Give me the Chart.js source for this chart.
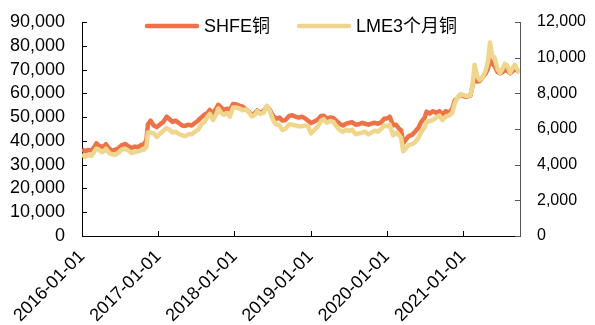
<!DOCTYPE html>
<html>
<head>
<meta charset="utf-8">
<script src="https://cdn.jsdelivr.net/npm/chart.js@4.4.1/dist/chart.umd.min.js"></script>
<style>
  html, body { margin: 0; padding: 0; background: #fff; }
</style>
</head>
<body>
<canvas id="chart" width="595" height="325"></canvas>
<script>
// dates of the sampled points (roughly twice a month)
const dates = [
  '2016-01-01','2016-01-15','2016-02-01','2016-02-15','2016-03-01','2016-03-10','2016-03-22','2016-04-05','2016-04-15','2016-04-25',
  '2016-05-10','2016-05-25','2016-06-10','2016-06-25','2016-07-10','2016-07-25','2016-08-10','2016-08-25','2016-09-10','2016-09-25',
  '2016-10-10','2016-10-25','2016-11-05','2016-11-12','2016-11-25','2016-12-10','2016-12-25',
  '2017-01-10','2017-01-25','2017-02-10','2017-02-25','2017-03-10','2017-03-25','2017-04-10','2017-04-25','2017-05-10','2017-05-25',
  '2017-06-10','2017-06-25','2017-07-10','2017-07-25','2017-08-10','2017-08-25','2017-09-05','2017-09-20','2017-10-05','2017-10-15',
  '2017-10-30','2017-11-10','2017-11-25','2017-12-10','2017-12-25',
  '2018-01-10','2018-01-25','2018-02-10','2018-02-25','2018-03-10','2018-03-25','2018-04-10','2018-04-20','2018-05-05','2018-05-20',
  '2018-06-05','2018-06-20','2018-07-05','2018-07-20','2018-08-05','2018-08-18','2018-09-01','2018-09-20','2018-10-05','2018-10-20',
  '2018-11-05','2018-11-20','2018-12-05','2018-12-20',
  '2019-01-03','2019-01-20','2019-02-05','2019-02-20','2019-03-05','2019-03-20','2019-04-05','2019-04-20','2019-05-05','2019-05-20',
  '2019-06-05','2019-06-20','2019-07-05','2019-07-20','2019-08-05','2019-08-20','2019-09-05','2019-09-20','2019-10-05','2019-10-20',
  '2019-11-05','2019-11-20','2019-12-05','2019-12-20',
  '2020-01-05','2020-01-15','2020-02-01','2020-02-15','2020-03-01','2020-03-10','2020-03-20','2020-04-01','2020-04-15','2020-05-01',
  '2020-05-15','2020-06-01','2020-06-15','2020-07-01','2020-07-10','2020-07-25','2020-08-10','2020-08-25','2020-09-10','2020-09-25',
  '2020-10-10','2020-10-25','2020-11-10','2020-11-22','2020-12-05','2020-12-20',
  '2021-01-05','2021-01-20','2021-02-05','2021-02-15','2021-02-25','2021-03-10','2021-03-22','2021-04-05','2021-04-20','2021-05-01',
  '2021-05-10','2021-05-20','2021-06-01','2021-06-15','2021-06-28','2021-07-10','2021-07-20','2021-08-01','2021-08-14','2021-08-25',
  '2021-09-06','2021-09-18','2021-09-28'
];

// SHFE copper, yuan/t (left axis)
const shfeCopper = [
  36500,35600,36200,36000,37500,39000,38000,37500,37800,38600,
  36800,35900,36300,37000,38200,38700,37800,37000,37600,37300,
  38200,38700,40500,47000,48500,46500,45800,
  47000,48000,50200,49000,48000,48500,47500,46500,46300,46800,
  46500,47500,48500,49800,51000,51800,53000,51500,53500,55200,
  54000,53000,53500,53200,55500,
  55300,54800,54400,53300,52300,51000,51800,52800,51800,52500,
  54400,53000,50500,49300,49800,48600,48700,50500,50800,50200,
  49800,50200,49500,48500,
  47500,48200,49000,50500,50600,49400,49800,49600,48400,47200,
  46500,47200,47600,47800,46800,47000,47600,47200,46800,47300,
  47600,47200,47800,49300,
  49500,50200,46500,46800,45000,44500,39000,40500,42000,42500,
  43800,45500,48000,49800,52300,51500,52500,51800,52500,51000,
  52500,51800,53500,57000,58000,59500,
  58800,58600,59000,63000,66500,65000,65200,66800,68400,70500,
  74000,72700,71500,69000,68400,69000,69800,69500,68400,69200,
  70200,69500,69200
];

// LME 3-month copper, USD/t (right axis)
const lmeCopper = [
  4600,4430,4550,4500,4750,4900,4850,4700,4750,4900,
  4650,4580,4550,4700,4850,4900,4800,4650,4700,4750,
  4800,4850,5000,5800,5800,5750,5550,
  5750,5900,6050,5950,5800,5850,5720,5650,5600,5700,
  5700,5850,5950,6250,6400,6700,6850,6500,6800,7150,
  6900,6800,6900,6700,7200,
  7200,7150,7050,7100,6950,6700,6800,7000,6850,6900,
  7300,7000,6500,6250,6200,5950,6000,6250,6250,6200,
  6150,6150,6200,6150,
  5750,5950,6150,6450,6550,6350,6450,6400,6150,5950,
  5850,5950,5900,5950,5700,5750,5800,5850,5700,5800,
  5900,5850,6000,6200,
  6150,6250,5650,5800,5650,5500,4750,4900,5100,5150,
  5250,5500,5850,6100,6400,6450,6500,6650,6750,6500,
  6700,6750,6900,7450,7750,7950,
  7900,7850,7900,8400,9600,8950,8750,8900,9300,9800,
  10850,10150,10000,9350,9150,9400,9650,9550,9150,9400,
  9600,9350,9150
];

const yearTicks = ['2016-01-01','2017-01-01','2018-01-01','2019-01-01','2020-01-01','2021-01-01'];
const xMin = '2016-01-01';
const xMax = '2021-10-01';

const FONT = "'Liberation Sans', Arial, 'Noto Sans CJK SC', sans-serif";
const ORANGE = 'rgb(238,114,71)';
const YELLOW = 'rgb(240,214,140)';

const toPoints = vals => dates.map((d, i) => ({ x: Date.parse(d), y: vals[i] }));

// ticks point into the plot in the original, so draw them ourselves
const inwardTicks = {
  id: 'inwardTicks',
  afterDraw(chart) {
    const { ctx, chartArea: a, scales } = chart;
    ctx.save();
    ctx.lineWidth = 1;
    ctx.strokeStyle = '#000';
    ctx.beginPath();
    scales.x.ticks.forEach((t, i) => {
      const px = Math.round(scales.x.getPixelForTick(i)) + 0.5;
      ctx.moveTo(px, a.bottom);
      ctx.lineTo(px, a.bottom - 5);
    });
    scales.y.ticks.forEach((t, i) => {
      const py = Math.round(scales.y.getPixelForTick(i)) + 0.5;
      ctx.moveTo(a.left, py);
      ctx.lineTo(a.left + 5, py);
    });
    ctx.stroke();
    ctx.strokeStyle = '#555';
    ctx.beginPath();
    scales.y2.ticks.forEach((t, i) => {
      const py = Math.round(scales.y2.getPixelForTick(i)) + 0.5;
      ctx.moveTo(a.right, py);
      ctx.lineTo(a.right - 5, py);
    });
    ctx.stroke();
    ctx.restore();
  }
};

// legend sits inside the plot, right at the top
const topLegend = {
  id: 'topLegend',
  afterDraw(chart) {
    const { ctx, chartArea: a } = chart;
    ctx.save();
    ctx.font = '18px ' + FONT;
    const boxW = 54, textGap = 5, itemGap = 27;
    const items = chart.data.datasets.map(ds => ({
      label: ds.label,
      color: ds.borderColor,
      w: boxW + textGap + ctx.measureText(ds.label).width
    }));
    const total = items.reduce((s, it) => s + it.w, 0) + itemGap * (items.length - 1);
    let x = (a.left + a.right) / 2 - total / 2;
    const y = a.top + 4;
    items.forEach(it => {
      ctx.strokeStyle = it.color;
      ctx.lineWidth = 4.5;
      ctx.lineCap = 'round';
      ctx.beginPath();
      ctx.moveTo(x + 2, y);
      ctx.lineTo(x + boxW - 2, y);
      ctx.stroke();
      ctx.fillStyle = '#000';
      ctx.textBaseline = 'middle';
      ctx.textAlign = 'left';
      ctx.fillText(it.label, x + boxW + textGap, y + 1);
      x += it.w + itemGap;
    });
    ctx.restore();
  }
};

// invisible tick marks give the gap between axis and labels
// (ticks.padding would also push the plot top down)
const hiddenTickGrid = { display: true, drawOnChartArea: false, drawTicks: true, tickLength: 14, tickColor: 'rgba(0,0,0,0)' };

new Chart(document.getElementById('chart'), {
  type: 'line',
  data: {
    datasets: [
      {
        label: 'SHFE铜',
        data: toPoints(shfeCopper),
        yAxisID: 'y',
        borderColor: ORANGE,
        backgroundColor: ORANGE,
        borderWidth: 4.5,
        pointRadius: 0,
        tension: 0,
        borderJoinStyle: 'round',
        order: 2
      },
      {
        label: 'LME3个月铜',
        data: toPoints(lmeCopper),
        yAxisID: 'y2',
        borderColor: YELLOW,
        backgroundColor: YELLOW,
        borderWidth: 4.5,
        pointRadius: 0,
        tension: 0,
        borderJoinStyle: 'round',
        order: 1
      }
    ]
  },
  options: {
    responsive: false,
    animation: false,
    layout: { padding: { top: 22, left: 0, right: 0, bottom: 0 } },
    plugins: { legend: { display: false }, tooltip: { enabled: false } },
    scales: {
      x: {
        type: 'linear',
        min: Date.parse(xMin),
        max: Date.parse(xMax),
        afterBuildTicks: scale => { scale.ticks = yearTicks.map(d => ({ value: Date.parse(d) })); },
        afterFit: scale => { scale.height = 89; },
        grid: { display: true, drawOnChartArea: false, drawTicks: false },
        border: { display: true, color: '#000', width: 1 },
        ticks: {
          autoSkip: false,
          maxRotation: 45,
          minRotation: 45,
          padding: 10,
          color: '#000',
          font: { family: FONT, size: 18 },
          callback: v => new Date(v).toISOString().slice(0, 10)
        }
      },
      y: {
        position: 'left',
        min: 0,
        max: 90000,
        afterFit: scale => { scale.width = 82; },
        grid: hiddenTickGrid,
        border: { display: true, color: '#000', width: 1 },
        ticks: { autoSkip: false, stepSize: 10000, padding: 3, color: '#000', font: { family: FONT, size: 18 } }
      },
      y2: {
        position: 'right',
        min: 0,
        max: 12000,
        afterFit: scale => { scale.width = 75; },
        grid: hiddenTickGrid,
        border: { display: true, color: '#555', width: 1 },
        ticks: { autoSkip: false, stepSize: 2000, padding: 3, color: '#000', font: { family: FONT, size: 16 } }
      }
    }
  },
  plugins: [inwardTicks, topLegend]
});
</script>
</body>
</html>
